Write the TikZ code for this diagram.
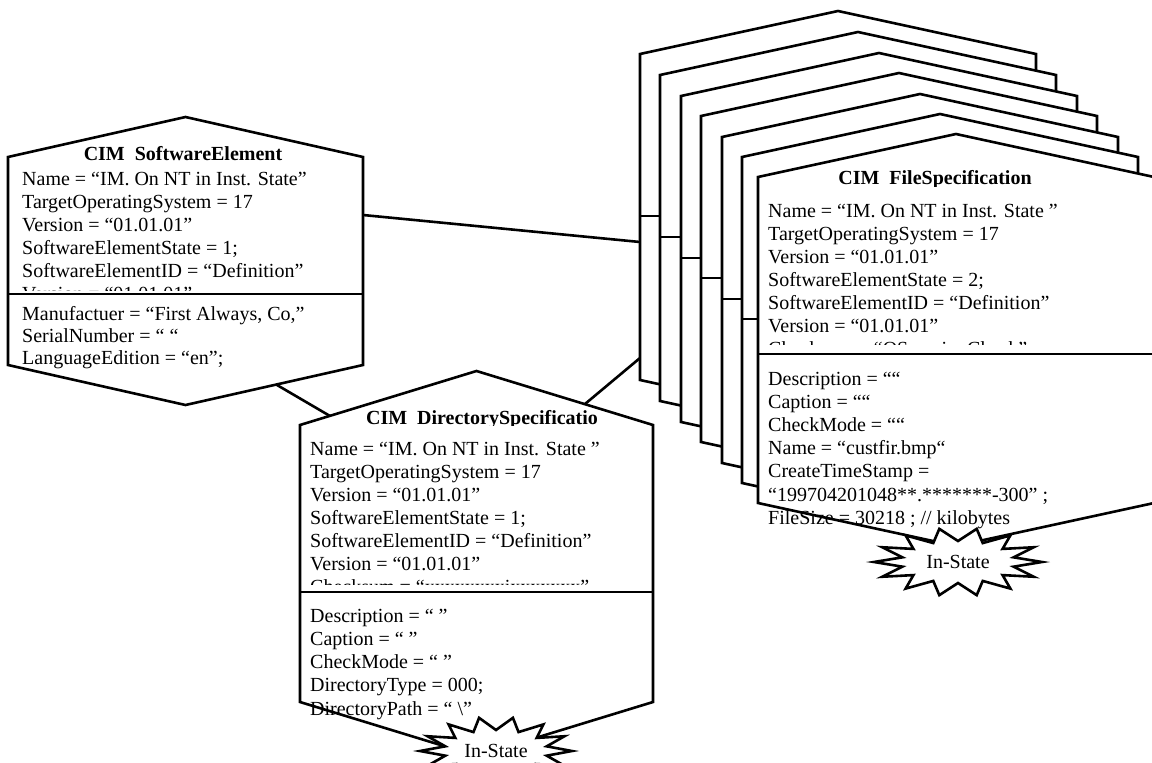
\documentclass[tikz,border=0pt]{standalone}
\usepackage{fontspec}
\setmainfont{Liberation Serif}
% #1 name, #2 left, #3 top (side corners), #4 width, #5 side height, #6 apex rise
\newcommand\hexshape[6]{%
  \coordinate (#1-tl) at (#2,#3);
  \coordinate (#1-t) at ({#2+#4/2},{#3-#6});
  \coordinate (#1-tr) at ({#2+#4},#3);
  \coordinate (#1-br) at ({#2+#4},{#3+#5});
  \coordinate (#1-b) at ({#2+#4/2},{#3+#5+#6});
  \coordinate (#1-bl) at (#2,{#3+#5});
  \draw[hex] (#1-tl) -- (#1-t) -- (#1-tr) -- (#1-br) -- (#1-b) -- (#1-bl) -- cycle;
}
% #1 centre coordinate name, #2 outer x radius, #3 inner x radius
\newcommand\explosion[3]{%
  \draw[hex, shift={(#1)}] plot[samples at={0,...,27}, variable=\k]
    ({ifthenelse(mod(\k,2)==0,#2,#3)*cos(\k*360/28)},
     {ifthenelse(mod(\k,2)==0,34,21)*sin(\k*360/28)}) -- cycle;
}
\begin{document}
\begin{tikzpicture}[x=1pt,y=-1pt,
  hex/.style={draw, fill=white, line width=2.6pt, line join=miter},
  conn/.style={draw, line width=2.6pt},
  divider/.style={draw, line width=2.6pt},
  txt/.style={anchor=base west, inner sep=0pt, font=\fontsize{20}{23}\selectfont},
  ttl/.style={anchor=base, inner sep=0pt, font=\fontsize{20}{23}\selectfont\bfseries},
  bursttext/.style={inner sep=0pt, font=\fontsize{20}{23}\selectfont}]
\useasboundingbox (0,0) rectangle (1152,763);
\clip (0,0) rectangle (1152,763);

% connector end points
\coordinate (se-out1) at (363,215);
\coordinate (f0-in1) at (640,242);
\coordinate (se-out2) at (277,385);
\coordinate (dir-in1) at (330,416);
\coordinate (dir-out1) at (585,404);
\coordinate (f0-in2) at (640,358);
\draw[conn] (se-out1) -- (f0-in1);
\draw[conn] (se-out2) -- (dir-in1);
\draw[conn] (dir-out1) -- (f0-in2);

% CIM SoftwareElement
\hexshape{se}{8}{157}{355}{208}{40}
\coordinate (se-dl) at (8,294);
\coordinate (se-dr) at (363,294);
\draw[divider] (se-dl) -- (se-dr);

% CIM DirectorySpecification
\hexshape{dir}{300}{425}{353}{277}{54}
\coordinate (dir-dl) at (300,592);
\coordinate (dir-dr) at (653,592);
\draw[divider] (dir-dl) -- (dir-dr);

% stack of file specifications
\foreach \L/\T [count=\i from 0] in {640/54, 660/75, 681/96, 701/116, 722/137, 742/157} {
  \hexshape{f\i}{\L}{\T}{396}{326}{43}
  \coordinate (f\i-dl) at (\L,\T+162);
  \coordinate (f\i-dr) at (\L+396,\T+162);
  \draw[divider] (f\i-dl) -- (f\i-dr);
}
\hexshape{ff}{758}{177}{396}{326}{43}
\coordinate (ff-dl) at (757,354);
\coordinate (ff-dr) at (1154,354);
\draw[divider] (ff-dl) -- (ff-dr);

% texts: SoftwareElement
\node[ttl] (se-title) at (183,160) {CIM\ \ SoftwareElement};
\foreach \t [count=\i from 0] in {%
  {Name = “IM. On NT in Inst. State”},
  {TargetOperatingSystem = 17},
  {Version = “01.01.01”},
  {SoftwareElementState = 1;},
  {SoftwareElementID = “Definition”}} {
  \node[txt] (sea\i) at (22,185+23*\i) {\t};
}
\begin{scope}
  \clip (8,250) rectangle (363,290);
  \node[txt] (sea5) at (22,300) {Version = “01.01.01”};
\end{scope}
\foreach \t [count=\i from 0] in {%
  {Manufactuer = “First Always, Co,”},
  {SerialNumber = “ “},
  {LanguageEdition = “en”;}} {
  \node[txt] (seb\i) at (22,320+22.3*\i) {\t};
}

% texts: DirectorySpecification
\begin{scope}
  \clip (300,380) rectangle (653,425.5);
  \node[ttl] (dir-title) at (482,424) {CIM\ \ DirectorySpecificatio};
\end{scope}
\foreach \t [count=\i from 0] in {%
  {Name = “IM. On NT in Inst. State ”},
  {TargetOperatingSystem = 17},
  {Version = “01.01.01”},
  {SoftwareElementState = 1;},
  {SoftwareElementID = “Definition”},
  {Version = “01.01.01”}} {
  \node[txt] (dira\i) at (310,455+23*\i) {\t};
}
\begin{scope}
  \clip (300,560) rectangle (653,584);
  \node[txt] (dira6) at (310,593) {Checksum = “xxxxxxxxixxxxxxx”};
\end{scope}
\foreach \t [count=\i from 0] in {%
  {Description = “ ”},
  {Caption = “ ”},
  {CheckMode = “ ”},
  {DirectoryType = 000;},
  {DirectoryPath = “ \textbackslash”}} {
  \node[txt] (dirb\i) at (310,622+23.25*\i) {\t};
}

% texts: FileSpecification
\begin{scope}
  \clip (758,130) rectangle (1154,186);
  \node[ttl] (ff-title) at (935,184) {CIM\ \ FileSpecification};
\end{scope}
\foreach \t [count=\i from 0] in {%
  {Name = “IM. On NT in Inst. State ”},
  {TargetOperatingSystem = 17},
  {Version = “01.01.01”},
  {SoftwareElementState = 2;},
  {SoftwareElementID = “Definition”},
  {Version = “01.01.01”}} {
  \node[txt] (ffa\i) at (768,217+23*\i) {\t};
}
\begin{scope}
  \clip (758,320) rectangle (1154,344);
  \node[txt] (ffa6) at (768,355) {Checksum = “OSversionCheck”};
\end{scope}
\foreach \t [count=\i from 0] in {%
  {Description = ““},
  {Caption = ““},
  {CheckMode = ““},
  {Name = “custfir.bmp“},
  {CreateTimeStamp =},
  {“199704201048**.*******-300” ;},
  {FileSize = 30218 ; // kilobytes}} {
  \node[txt] (ffb\i) at (768,385+23.2*\i) {\t};
}

% In-State explosions
\coordinate (st-dir-c) at (496,751);
\explosion{st-dir-c}{76}{52}
\node[bursttext] (st-dir) at (st-dir-c) {In-State};
\coordinate (st-file-c) at (958,562);
\explosion{st-file-c}{84}{57}
\node[bursttext] (st-file) at (st-file-c) {In-State};
\end{tikzpicture}
\end{document}
